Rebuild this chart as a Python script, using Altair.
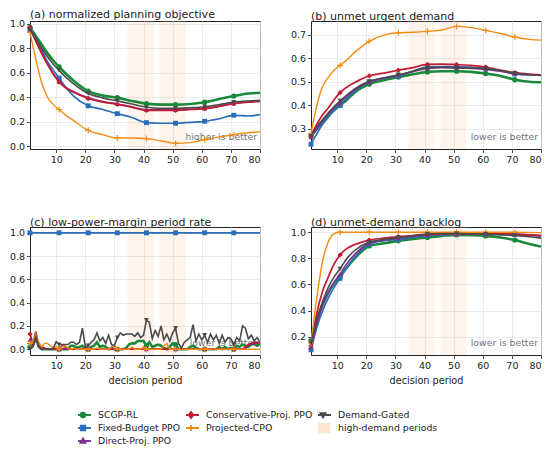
import altair as alt
import pandas as pd

METHODS = ["SCGP-RL", "Fixed-Budget PPO", "Direct-Proj. PPO",
           "Conservative-Proj. PPO", "Projected-CPO", "Demand-Gated"]
COLORS = ["#1a8a3a", "#2a6ebb", "#7b3294", "#c41a32", "#f28c13", "#4a4a4a"]
WIDTHS = [2.6, 1.7, 1.7, 1.7, 1.4, 1.6]
PLUS = "M-1,0H1M0,-1V1"
SHAPES = ["circle", "square", "triangle-up", "diamond", PLUS, "triangle-down"]
SIZES = [28, 24, 24, 28, 36, 24]

BAND_LABEL = "high-demand periods"
BAND_START = [34.5, 45.5]
BAND_END = [43.5, 54.5]

X_TICKS = [10, 20, 30, 40, 50, 60, 70, 80]
MARKER_X = [1, 11, 21, 31, 41, 51, 61, 71]

# smooth panels: values read at these periods
XS = [1, 3, 5, 7, 9, 11, 13, 16, 21, 26, 31, 36, 41, 46, 51, 56, 61, 66, 71, 76, 80]

A_SCGP = [.97, .90, .83, .76, .70, .647, .60, .535, .45, .415, .397, .37, .348, .34, .34, .345, .36, .385, .41, .43, .437]
A_FIXED = [.95, .87, .78, .69, .62, .557, .49, .41, .33, .30, .266, .235, .193, .188, .188, .195, .204, .225, .253, .247, .258]
A_DIRECT = [.96, .86, .76, .67, .59, .53, .485, .445, .395, .365, .345, .32, .298, .297, .297, .302, .31, .328, .35, .362, .37]
A_CONS = [.97, .86, .76, .67, .59, .524, .48, .44, .39, .36, .342, .32, .293, .292, .293, .30, .307, .325, .348, .36, .367]
A_CPO = [.93, .71, .52, .40, .34, .30, .26, .21, .13, .095, .068, .068, .063, .045, .025, .03, .055, .075, .095, .11, .12]
A_GATED = [.95, .88, .80, .73, .67, .62, .57, .51, .43, .395, .37, .345, .318, .31, .31, .315, .323, .34, .36, .37, .375]

B_SCGP = [.27, .30, .33, .36, .38, .40, .42, .455, .49, .507, .52, .532, .542, .545, .545, .542, .535, .525, .509, .50, .498]
B_FIXED = [.235, .28, .32, .35, .38, .40, .425, .46, .50, .515, .525, .545, .563, .565, .565, .562, .557, .547, .533, .53, .53]
B_DIRECT = [.265, .30, .335, .365, .39, .41, .435, .465, .498, .515, .528, .543, .557, .56, .559, .557, .553, .545, .535, .53, .528]
B_CONS = [.27, .32, .36, .39, .425, .454, .475, .497, .525, .537, .549, .56, .574, .575, .573, .57, .563, .55, .539, .533, .53]
B_CPO = [.28, .40, .48, .52, .55, .57, .59, .625, .672, .698, .708, .71, .714, .72, .735, .73, .718, .705, .69, .68, .677]
B_GATED = [.27, .31, .34, .37, .395, .419, .44, .47, .502, .517, .53, .545, .56, .562, .56, .558, .556, .548, .537, .53, .527]

D_SCGP = [.17, .33, .45, .54, .61, .66, .72, .80, .895, .915, .934, .948, .96, .972, .98, .978, .972, .96, .94, .91, .89]
D_FIXED = [.10, .27, .40, .50, .58, .647, .72, .81, .91, .935, .945, .96, .975, .98, .985, .985, .985, .985, .985, .98, .975]
D_DIRECT = [.12, .30, .44, .54, .62, .68, .75, .83, .915, .94, .955, .968, .98, .985, .988, .987, .985, .985, .982, .975, .97]
D_CONS = [.13, .38, .55, .66, .76, .826, .87, .905, .94, .955, .966, .975, .985, .99, .99, .99, .99, .988, .985, .98, .975]
D_CPO = [.15, .50, .78, .93, .99, 1.0, 1.0, 1.0, 1.0, 1.0, 1.0, 1.0, 1.0, 1.0, 1.0, 1.0, 1.0, 1.0, 1.0, .998, .997]
D_GATED = [.15, .33, .47, .58, .66, .72, .79, .86, .925, .945, .96, .972, .985, .99, .99, .988, .985, .98, .975, .965, .955]

# panel (c): one value per decision period 1..80
XC = list(range(1, 81))
C_SCGP = [0.02, 0.03, 0.10, 0.02, 0.00, 0.00, 0.00, 0.00, 0.00, 0.00,
          0.00, 0.00, 0.00, 0.00, 0.03, 0.03, 0.01, 0.02, 0.03, 0.00,
          0.00, 0.02, 0.03, 0.06, 0.02, 0.03, 0.02, 0.00, 0.01, 0.00,
          0.00, 0.00, 0.00, 0.01, 0.04, 0.05, 0.05, 0.07, 0.07, 0.07,
          0.03, 0.06, 0.02, 0.03, 0.04, 0.03, 0.01, 0.00, 0.02, 0.05,
          0.04, 0.00, 0.00, 0.00, 0.00, 0.02, 0.03, 0.01, 0.00, 0.00,
          0.00, 0.00, 0.00, 0.00, 0.00, 0.02, 0.00, 0.02, 0.00, 0.01,
          0.00, 0.03, 0.02, 0.04, 0.03, 0.02, 0.04, 0.05, 0.03, 0.04]
C_FIXED = [1.0, 1.0, 1.0, 1.0, 1.0, 1.0, 1.0, 1.0, 1.0, 1.0,
           1.0, 1.0, 1.0, 1.0, 1.0, 1.0, 1.0, 1.0, 1.0, 1.0,
           1.0, 1.0, 1.0, 1.0, 1.0, 1.0, 1.0, 1.0, 1.0, 1.0,
           1.0, 1.0, 1.0, 1.0, 1.0, 1.0, 1.0, 1.0, 1.0, 1.0,
           1.0, 1.0, 1.0, 1.0, 1.0, 1.0, 1.0, 1.0, 1.0, 1.0,
           1.0, 1.0, 1.0, 1.0, 1.0, 1.0, 1.0, 1.0, 1.0, 1.0,
           1.0, 1.0, 1.0, 1.0, 1.0, 1.0, 1.0, 1.0, 1.0, 1.0,
           1.0, 1.0, 1.0, 1.0, 1.0, 1.0, 1.0, 1.0, 1.0, 1.0]
C_DIRECT = [0.08, 0.03, 0.10, 0.02, 0.00, 0.00, 0.00, 0.00, 0.00, 0.00,
            0.00, 0.00, 0.00, 0.00, 0.00, 0.00, 0.00, 0.00, 0.00, 0.00,
            0.00, 0.00, 0.00, 0.00, 0.00, 0.00, 0.00, 0.00, 0.00, 0.00,
            0.00, 0.00, 0.00, 0.00, 0.00, 0.00, 0.00, 0.00, 0.00, 0.00,
            0.00, 0.00, 0.00, 0.00, 0.00, 0.00, 0.00, 0.00, 0.00, 0.00,
            0.00, 0.00, 0.00, 0.00, 0.00, 0.00, 0.00, 0.00, 0.00, 0.00,
            0.00, 0.00, 0.00, 0.00, 0.00, 0.00, 0.00, 0.00, 0.00, 0.00,
            0.00, 0.00, 0.00, 0.00, 0.00, 0.03, 0.05, 0.04, 0.06, 0.05]
C_CONS = [0.13, 0.05, 0.15, 0.03, 0.02, 0.01, 0.00, 0.00, 0.00, 0.00,
          0.00, 0.03, 0.02, 0.00, 0.00, 0.00, 0.00, 0.00, 0.00, 0.01,
          0.00, 0.00, 0.00, 0.00, 0.00, 0.00, 0.00, 0.00, 0.00, 0.00,
          0.00, 0.00, 0.00, 0.00, 0.00, 0.00, 0.00, 0.00, 0.00, 0.00,
          0.00, 0.00, 0.00, 0.00, 0.00, 0.00, 0.00, 0.00, 0.00, 0.00,
          0.00, 0.00, 0.00, 0.00, 0.00, 0.00, 0.00, 0.00, 0.00, 0.00,
          0.00, 0.00, 0.00, 0.00, 0.00, 0.00, 0.00, 0.00, 0.00, 0.00,
          0.00, 0.00, 0.00, 0.00, 0.02, 0.04, 0.05, 0.06, 0.05, 0.06]
C_CPO = [0.05, 0.07, 0.13, 0.06, 0.02, 0.05, 0.05, 0.03, 0.01, 0.02,
         0.00, 0.02, 0.03, 0.01, 0.00, 0.01, 0.00, 0.00, 0.00, 0.00,
         0.00, 0.00, 0.00, 0.01, 0.00, 0.00, 0.00, 0.00, 0.02, 0.03,
         0.00, 0.00, 0.00, 0.00, 0.00, 0.02, 0.00, 0.00, 0.00, 0.02,
         0.00, 0.00, 0.00, 0.00, 0.00, 0.00, 0.03, 0.05, 0.00, 0.00,
         0.00, 0.00, 0.00, 0.00, 0.00, 0.00, 0.00, 0.00, 0.00, 0.00,
         0.00, 0.00, 0.00, 0.00, 0.00, 0.00, 0.00, 0.00, 0.00, 0.00,
         0.00, 0.00, 0.00, 0.00, 0.00, 0.00, 0.00, 0.00, 0.00, 0.00]
C_GATED = [0.00, 0.02, 0.11, 0.02, 0.00, 0.00, 0.00, 0.00, 0.01, 0.065,
           0.04, 0.04, 0.04, 0.04, 0.06, 0.06, 0.04, 0.06, 0.18, 0.02,
           0.03, 0.06, 0.08, 0.14, 0.07, 0.10, 0.05, 0.12, 0.04, 0.03,
           0.10, 0.14, 0.12, 0.13, 0.13, 0.13, 0.11, 0.14, 0.10, 0.12,
           0.25, 0.23, 0.09, 0.16, 0.11, 0.20, 0.08, 0.13, 0.07, 0.14,
           0.18, 0.05, 0.01, 0.06, 0.08, 0.10, 0.21, 0.07, 0.13, 0.08,
           0.12, 0.06, 0.13, 0.08, 0.12, 0.05, 0.12, 0.06, 0.10, 0.09,
           0.04, 0.10, 0.07, 0.20, 0.18, 0.09, 0.12, 0.07, 0.10, 0.06]

# legend (row-major order so columns read like the reference)
LEGEND_ORDER = ["SCGP-RL", "Conservative-Proj. PPO", "Demand-Gated",
                "Fixed-Budget PPO", "Projected-CPO", BAND_LABEL,
                "Direct-Proj. PPO"]
LEGEND_COLORS = ["#1a8a3a", "#c41a32", "#4a4a4a", "#2a6ebb", "#f28c13", "#fce6cf", "#7b3294"]
L = "M-2,0H2"
LEGEND_SHAPES = [
    L + "M0.62,0L0.44,0.44L0,0.62L-0.44,0.44L-0.62,0L-0.44,-0.44L0,-0.62L0.44,-0.44Z",
    L + "M0,-0.75L0.56,0L0,0.75L-0.56,0Z",
    L + "M-0.62,-0.44H0.62L0,0.62Z",
    L + "M-0.56,-0.56H0.56V0.56H-0.56Z",
    L + "M0,-0.75V0.75",
    "M-1.6,-1.1H1.6V1.1H-1.6Z",
    L + "M0,-0.62L0.62,0.44H-0.62Z",
]

W, H = 230, 128
FONT = "DejaVu Sans"


def long_df(xs, series):
    rows = []
    for m, vals in zip(METHODS, series):
        for x, v in zip(xs, vals):
            rows.append({"period": x, "value": v, "method": m})
    return pd.DataFrame(rows)


PANELS = [
    ("(a) normalized planning objective", XS,
     [A_SCGP, A_FIXED, A_DIRECT, A_CONS, A_CPO, A_GATED],
     [-0.022, 1.022], [0, 0.2, 0.4, 0.6, 0.8, 1.0], "higher is better", None, "monotone"),
    ("(b) unmet urgent demand", XS,
     [B_SCGP, B_FIXED, B_DIRECT, B_CONS, B_CPO, B_GATED],
     [0.215, 0.758], [0.3, 0.4, 0.5, 0.6, 0.7], "lower is better", None, "monotone"),
    ("(c) low-power-margin period rate", XC,
     [C_SCGP, C_FIXED, C_DIRECT, C_CONS, C_CPO, C_GATED],
     [-0.05, 1.05], [0, 0.2, 0.4, 0.6, 0.8, 1.0], "lower is better", "decision period", "linear"),
    ("(d) unmet-demand backlog", XS,
     [D_SCGP, D_FIXED, D_DIRECT, D_CONS, D_CPO, D_GATED],
     [0.06, 1.04], [0.2, 0.4, 0.6, 0.8, 1.0], "lower is better", "decision period", "monotone"),
]

band_df = pd.DataFrame({"start": BAND_START, "end": BAND_END})


def make_panel(title, xs, series, ydom, yticks, note, xtitle, interp, with_legend):
    df = long_df(xs, series)
    xscale = alt.Scale(domain=[1, 80], nice=False, zero=False)
    xaxis = alt.Axis(values=X_TICKS, title=xtitle)
    yscale = alt.Scale(domain=ydom, nice=False, zero=False)
    yaxis = alt.Axis(values=yticks, format=".1f", title=None)

    layers = []
    layers.append(
        alt.Chart(band_df).mark_rect(color="#f7c48e", opacity=0.18).encode(
            x=alt.X("start:Q", scale=xscale, axis=xaxis),
            x2="end:Q",
        )
    )
    layers.append(
        alt.Chart(pd.DataFrame({"note": [note]})).mark_text(
            align="right", baseline="middle", fontSize=9.3, font=FONT, color="#6e7480"
        ).encode(text="note:N", x=alt.value(W - 3), y=alt.value(H - 12))
    )
    base = alt.Chart(df)
    for m, c, w, s, sz in zip(METHODS, COLORS, WIDTHS, SHAPES, SIZES):
        sub = base.transform_filter(alt.datum.method == m)
        layers.append(
            sub.mark_line(color=c, strokeWidth=w, interpolate=interp, clip=True).encode(
                x=alt.X("period:Q", scale=xscale, axis=xaxis),
                y=alt.Y("value:Q", scale=yscale, axis=yaxis),
            )
        )
        filled = s != PLUS
        layers.append(
            sub.transform_filter(alt.FieldOneOfPredicate(field="period", oneOf=MARKER_X))
            .mark_point(color=c, filled=filled, shape=s, size=sz, opacity=1,
                        strokeWidth=(1.2 if not filled else 0))
            .encode(
                x=alt.X("period:Q", scale=xscale, axis=xaxis),
                y=alt.Y("value:Q", scale=yscale, axis=yaxis),
            )
        )
    if with_legend:
        leg = alt.Legend(title=None, orient="none", legendX=48, legendY=388,
                         direction="horizontal",
                         columns=3, columnPadding=5, rowPadding=1, clipHeight=12,
                         symbolSize=64, symbolStrokeWidth=1.8, symbolOpacity=1,
                         labelFontSize=9.3, labelFont=FONT, labelColor="#222",
                         labelOffset=10)
        ldf = pd.DataFrame({"label": LEGEND_ORDER, "px": [-100] * 7, "py": [0.5] * 7})
        layers.append(
            alt.Chart(ldf).mark_point(filled=True, clip=True).encode(
                x=alt.X("px:Q", scale=xscale, axis=xaxis),
                y=alt.Y("py:Q", scale=yscale, axis=yaxis),
                color=alt.Color("label:N", scale=alt.Scale(domain=LEGEND_ORDER, range=LEGEND_COLORS), legend=leg),
                stroke=alt.Stroke("label:N", scale=alt.Scale(domain=LEGEND_ORDER, range=LEGEND_COLORS), legend=leg),
                shape=alt.Shape("label:N", scale=alt.Scale(domain=LEGEND_ORDER, range=LEGEND_SHAPES), legend=leg),
            )
        )
    return alt.layer(*layers).properties(width=W, height=H, title=title)


charts = [make_panel(*p, with_legend=(i == 0)) for i, p in enumerate(PANELS)]

chart = alt.concat(*charts, columns=2, spacing={"row": 51, "column": 28}).properties(
    padding=0
).configure_view(
    stroke="#222", strokeWidth=1
).configure_axis(
    domain=False, grid=True, gridColor="#e6e6e6", gridWidth=0.8,
    tickColor="#222", tickSize=3.5, tickWidth=0.8,
    labelFontSize=9.5, labelFont=FONT, labelColor="#222", labelPadding=2,
    titleFont=FONT, titleFontSize=9.7, titleFontWeight="normal", titleColor="#222",
    titlePadding=5,
).configure_title(
    font=FONT, fontSize=11, fontWeight="normal", anchor="start", frame="group",
    offset=-1, color="#222"
)

chart.save("out.html", embed_options={"renderer": "svg", "actions": False})
